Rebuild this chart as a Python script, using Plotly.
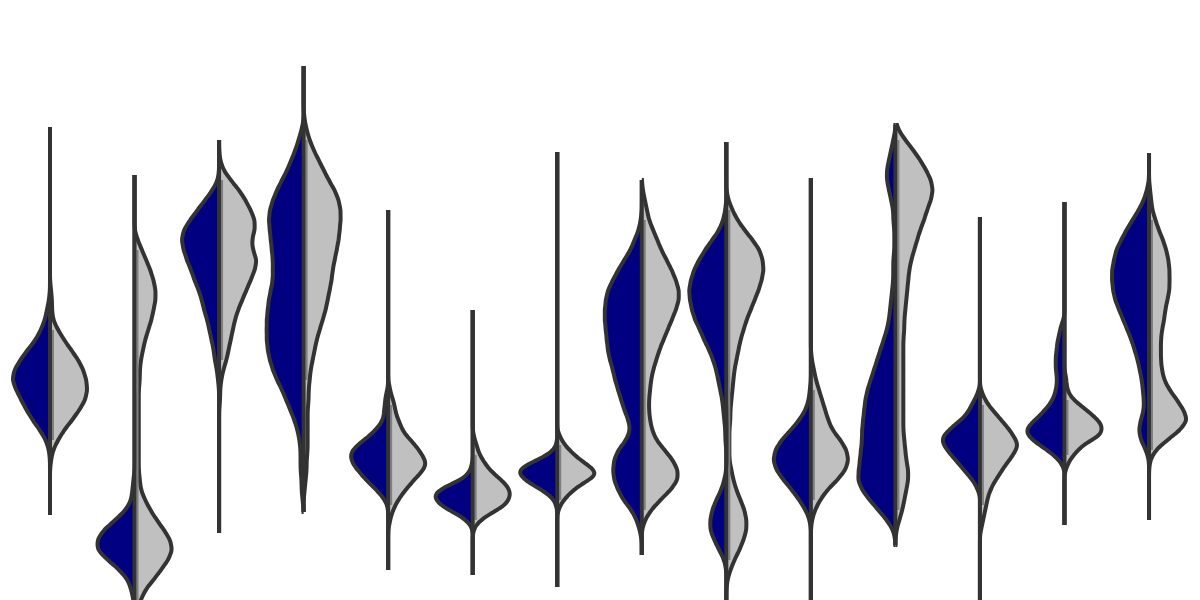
import numpy as np
import plotly.graph_objects as go

# ---------------- data (frequency tables) ----------------
categories = ["A", "B", "C", "D", "E", "F", "G", "H", "I", "J", "K", "L", "M", "N"]

navy_values = [
    [300, 290, 280, 270, 260, 250, 240, 230, 220, 210, 200, 190, 180, 170, 160, 150],
    [120, 110, 100, 90, 80, 70, 60, 50, 40, 30, 20, 10, 0],
    [420, 410, 400, 390, 380, 370, 360, 350, 340, 330, 320, 310, 300, 290, 280, 270, 260, 250, 240, 230, 220],
    [470, 460, 450, 440, 430, 420, 410, 400, 390, 380, 370, 360, 350, 340, 330, 320, 310, 300, 290, 280,
     270, 260, 250, 240, 230, 220, 210, 200, 190, 180, 170, 160, 150, 140, 130, 120, 110, 100],
    [210, 205, 200, 195, 190, 185, 180, 175, 170, 165, 160, 155, 150, 145, 140, 135, 130, 125, 120, 115,
     110, 105, 100, 95],
    [135, 130, 125, 120, 115, 110, 105, 100, 95, 90, 85, 80, 75],
    [155, 150, 145, 140, 135, 130, 125, 120, 115, 110, 105, 100, 95],
    [380, 370, 360, 350, 340, 330, 320, 310, 300, 290, 280, 270, 260, 250, 240, 230, 220, 210, 200, 190,
     180, 170, 160, 150, 140, 130, 120, 110, 100, 90, 80, 70],
    [390, 380, 370, 360, 350, 340, 330, 320, 310, 300, 290, 280, 270, 260, 250, 240, 230, 220, 210, 200,
     190, 180, 170, 160, 150, 140, 130, 120, 110, 100, 90, 80, 70, 60, 50, 40],
    [210, 200, 190, 180, 170, 160, 150, 140, 130, 120, 110, 100, 90, 80],
    [460, 450, 440, 430, 420, 410, 400, 390, 380, 370, 360, 350, 340, 330, 320, 310, 300, 290, 280, 270,
     260, 250, 240, 230, 220, 210, 200, 190, 180, 170, 160, 150, 140, 130, 120, 110, 100, 90, 80, 70],
    [210, 205, 200, 195, 190, 185, 180, 175, 170, 165, 160, 155, 150, 145, 140, 135, 130, 125, 120, 115, 110],
    [280, 275, 270, 265, 260, 255, 250, 245, 240, 235, 230, 225, 220, 215, 210, 205, 200, 195, 190, 185,
     180, 175, 170, 165, 160, 155, 150, 145, 140, 135],
    [410, 400, 390, 380, 370, 360, 350, 340, 330, 320, 310, 300, 290, 280, 270, 260, 250, 240, 230, 220,
     210, 200, 190, 180, 170, 160, 150],
]
navy_counts = [
    [1, 3, 5, 9, 14, 22, 29, 35, 37, 33, 28, 23, 17, 10, 4, 1],
    [1, 2, 3, 8, 18, 29, 35, 35, 25, 14, 6, 3, 1],
    [1, 6, 13, 20, 27, 33, 35, 33, 30, 26, 23, 19, 16, 14, 11, 9, 7, 5, 4, 2, 1],
    [2, 5, 8, 12, 16, 21, 26, 30, 33, 34, 33, 32, 31, 30, 30, 30, 32, 34, 35, 36,
     36, 36, 35, 33, 30, 26, 21, 17, 13, 9, 6, 4, 3, 3, 3, 2, 2, 1],
    [1, 2, 3, 3, 4, 4, 5, 8, 12, 17, 23, 29, 34, 36, 35, 33, 29, 25, 21, 16, 11, 7, 3, 1],
    [1, 2, 5, 11, 22, 31, 36, 34, 30, 22, 13, 6, 2],
    [1, 3, 9, 18, 28, 35, 34, 29, 22, 14, 7, 3, 1],
    [1, 3, 7, 11, 17, 23, 28, 33, 35, 36, 36, 35, 34, 33, 31, 28, 26, 23, 20, 17,
     13, 11, 15, 23, 27, 28, 27, 23, 18, 10, 5, 2],
    [1, 3, 7, 14, 21, 27, 32, 35, 37, 36, 34, 31, 26, 22, 17, 13, 10, 8, 6, 4,
     3, 2, 1, 1, 0, 0, 0, 2, 5, 10, 14, 16, 16, 12, 7, 2],
    [1, 2, 5, 11, 19, 28, 34, 36, 33, 26, 18, 11, 5, 1],
    [2, 4, 6, 8, 8, 6, 4, 2, 2, 1, 1, 1, 2, 2, 2, 3, 4, 5, 6, 8,
     11, 14, 17, 20, 23, 26, 28, 29, 30, 31, 31, 32, 33, 34, 35, 31, 24, 16, 8, 2],
    [1, 3, 5, 8, 10, 13, 18, 24, 29, 34, 36, 34, 31, 27, 23, 19, 15, 11, 7, 4, 2],
    [1, 3, 4, 5, 6, 7, 7, 8, 8, 8, 8, 7, 7, 7, 8, 9, 11, 14, 18, 22,
     27, 32, 35, 34, 29, 23, 16, 10, 5, 2],
    [2, 5, 10, 16, 22, 27, 32, 34, 36, 36, 35, 33, 29, 25, 21, 17, 14, 11, 9, 7,
     6, 5, 5, 8, 10, 8, 3],
]

grey_values = [
    [310, 300, 290, 280, 270, 260, 250, 240, 230, 220, 210, 200, 190, 180, 170, 160, 150, 140],
    [360, 350, 340, 330, 320, 310, 300, 290, 280, 270, 260, 250, 240, 230, 220, 210, 200, 190, 180, 170,
     160, 150, 140, 130, 120, 110, 100, 90, 80, 70, 60, 50, 40, 30, 20, 10, 0, -10, -20],
    [440, 430, 420, 410, 400, 390, 380, 370, 360, 350, 340, 330, 320, 310, 300, 290, 280, 270, 260, 250,
     240, 230, 220, 210, 200],
    [480, 470, 460, 450, 440, 430, 420, 410, 400, 390, 380, 370, 360, 350, 340, 330, 320, 310, 300, 290,
     280, 270, 260, 250, 240, 230, 220, 210, 200, 190, 180, 170, 160, 150, 140, 130, 120, 110],
    [215, 210, 205, 200, 195, 190, 185, 180, 175, 170, 165, 160, 155, 150, 145, 140, 135, 130, 125, 120,
     115, 110, 105, 100, 95, 90, 85, 80, 75],
    [165, 160, 155, 150, 145, 140, 135, 130, 125, 120, 115, 110, 105, 100, 95, 90, 85, 80, 75, 70],
    [165, 160, 155, 150, 145, 140, 135, 130, 125, 120, 115, 110, 105, 100, 95, 90],
    [410, 400, 390, 380, 370, 360, 350, 340, 330, 320, 310, 300, 290, 280, 270, 260, 250, 240, 230, 220,
     210, 200, 190, 180, 170, 160, 150, 140, 130, 120, 110, 100, 90, 80],
    [400, 390, 380, 370, 360, 350, 340, 330, 320, 310, 300, 290, 280, 270, 260, 250, 240, 230, 220, 210,
     200, 190, 180, 170, 160, 150, 140, 130, 120, 110, 100, 90, 80, 70, 60, 50, 40, 30, 20],
    [240, 230, 220, 210, 200, 190, 180, 170, 160, 150, 140, 130, 120, 110, 100, 90, 80],
    [470, 460, 450, 440, 430, 420, 410, 400, 390, 380, 370, 360, 350, 340, 330, 320, 310, 300, 290, 280,
     270, 260, 250, 240, 230, 220, 210, 200, 190, 180, 170, 160, 150, 140, 130, 120, 110, 100, 90, 80, 70],
    [210, 205, 200, 195, 190, 185, 180, 175, 170, 165, 160, 155, 150, 145, 140, 135, 130, 125, 120, 115,
     110, 105, 100, 95, 90, 85, 80, 75, 70],
    [225, 220, 215, 210, 205, 200, 195, 190, 185, 180, 175, 170, 165, 160, 155, 150, 145, 140, 135, 130],
    [410, 400, 390, 380, 370, 360, 350, 340, 330, 320, 310, 300, 290, 280, 270, 260, 250, 240, 230, 220,
     210, 200, 190, 180, 170, 160, 150, 140],
]
grey_counts = [
    [1, 2, 2, 3, 8, 14, 21, 28, 33, 36, 37, 35, 29, 22, 14, 8, 3, 1],
    [3, 7, 11, 15, 18, 20, 20, 18, 16, 13, 10, 8, 6, 5, 5, 4, 4, 4, 4, 4,
     4, 4, 4, 4, 5, 6, 10, 15, 21, 28, 34, 36, 32, 25, 18, 10, 6, 2, 1],
    [1, 4, 11, 19, 25, 30, 34, 34, 31, 32, 36, 34, 30, 26, 22, 18, 15, 13, 11, 9,
     7, 4, 2, 1, 1],
    [1, 3, 6, 10, 15, 20, 25, 31, 35, 37, 37, 36, 35, 33, 31, 29, 28, 26, 24, 22,
     19, 16, 13, 11, 9, 7, 6, 5, 5, 4, 4, 4, 4, 4, 3, 3, 2, 1],
    [1, 2, 3, 5, 6, 7, 8, 10, 12, 14, 17, 22, 26, 30, 33, 36, 37, 34, 30, 25,
     21, 17, 13, 10, 7, 5, 3, 2, 1],
    [1, 2, 4, 5, 7, 10, 13, 17, 22, 28, 33, 36, 37, 35, 32, 24, 15, 8, 3, 1],
    [2, 4, 7, 11, 16, 21, 28, 34, 36, 29, 21, 15, 10, 6, 3, 1],
    [1, 3, 5, 7, 11, 15, 19, 24, 29, 33, 36, 36, 33, 29, 25, 21, 17, 14, 11, 9,
     8, 7, 7, 8, 10, 14, 22, 30, 35, 35, 28, 18, 9, 3],
    [2, 6, 11, 18, 26, 33, 36, 37, 35, 32, 28, 24, 20, 17, 14, 12, 10, 8, 7, 6,
     5, 4, 4, 3, 3, 3, 3, 5, 7, 10, 14, 18, 20, 20, 17, 13, 8, 4, 1],
    [1, 3, 5, 8, 11, 14, 17, 21, 29, 35, 37, 34, 26, 16, 9, 4, 1],
    [3, 10, 18, 25, 31, 36, 38, 36, 32, 29, 25, 22, 19, 16, 14, 13, 12, 11, 10, 9,
     9, 8, 8, 8, 8, 8, 8, 8, 8, 8, 8, 9, 10, 11, 13, 13, 11, 9, 7, 4, 1],
    [1, 3, 5, 8, 12, 16, 20, 24, 28, 31, 34, 36, 34, 31, 28, 24, 21, 18, 15, 12,
     10, 8, 7, 6, 5, 4, 3, 2, 1],
    [1, 2, 2, 3, 5, 9, 15, 21, 27, 32, 36, 36, 35, 26, 18, 13, 9, 5, 3, 1],
    [1, 2, 3, 6, 9, 13, 16, 18, 19, 19, 19, 17, 15, 14, 12, 11, 11, 11, 12, 14,
     19, 26, 32, 36, 29, 17, 6, 1],
]

# range covered by each violin (lowest and highest observation)
span_low = [85, -20, 67, 88, 30, 25, 13, 45, -20, -20, 55, -20, 75, 80]
span_high = [473, 425, 460, 534, 390, 290, 448, 420, 458, 422, 475, 383, 398, 447]

# kernel bandwidth of each density estimate
navy_bw = [6, 6, 6, 6, 4, 4, 4, 6, 6, 6, 6, 4, 4, 6]
grey_bw = [6, 6, 6, 6, 4, 4, 4, 6, 6, 6, 6, 4, 4, 6]

# ---------------- figure ----------------
NAVY = "#000080"
SILVER = "#C0C0C0"
EDGE = "#333333"
SEAM = "#808080"
X0, X1 = -0.5914, 13.603
PX = (X1 - X0) / 1200.0          # one screen pixel in x-axis units

positions = list(range(len(categories)))

fig = go.Figure()
for i, pos in enumerate(positions):
    sides = [
        ("negative", navy_values[i], navy_counts[i], navy_bw[i], NAVY),
        ("positive", grey_values[i], grey_counts[i], grey_bw[i], SILVER),
    ]
    for side, vals, cnts, bw, col in sides:
        assert len(vals) == len(cnts), (categories[i], side, len(vals), len(cnts))
        y = np.repeat(np.asarray(vals, dtype=float), np.asarray(cnts, dtype=int))
        fig.add_trace(go.Violin(
            x=[pos] * len(y), y=y, side=side, name=categories[i],
            fillcolor=col, line=dict(color=EDGE, width=4),
            bandwidth=bw, spanmode="manual", span=[span_low[i], span_high[i]],
            points=False, width=0.875, scalemode="width",
            hoverinfo="skip", showlegend=False,
        ))

# soft seam on the silver half, over the main body of each silver side
sx, sy = [], []
for i, pos in enumerate(positions):
    vals = np.asarray(grey_values[i], dtype=float)
    cnts = np.asarray(grey_counts[i])
    body = vals[cnts >= 6]
    sx += [pos + 3 * PX, pos + 3 * PX, None]
    sy += [body.min(), body.max(), None]
fig.add_trace(go.Scatter(x=sx, y=sy, mode="lines", line=dict(color=SEAM, width=2),
                         hoverinfo="skip", showlegend=False))

# centre line of every split violin
cx, cy = [], []
for i, pos in enumerate(positions):
    cx += [pos, pos, None]
    cy += [span_low[i], span_high[i], None]
fig.add_trace(go.Scatter(x=cx, y=cy, mode="lines", line=dict(color=EDGE, width=4),
                         hoverinfo="skip", showlegend=False))

fig.update_layout(
    width=1200, height=600,
    margin=dict(l=0, r=0, t=0, b=0),
    violinmode="overlay",
    paper_bgcolor="white", plot_bgcolor="white",
    xaxis=dict(visible=False, range=[X0, X1]),
    yaxis=dict(visible=False, range=[0, 600]),
)
fig.write_html("out.html")
